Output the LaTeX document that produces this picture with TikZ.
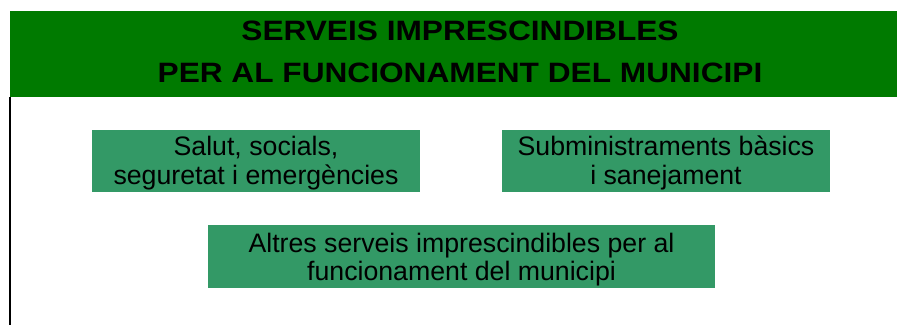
\documentclass[tikz,border=0pt]{standalone}
\usepackage{fontspec}
\setmainfont{Liberation Sans}
\newfontfamily\headfont[FakeStretch=1.13]{Liberation Sans}
\definecolor{headgreen}{RGB}{0,122,0}
\definecolor{boxgreen}{RGB}{51,153,102}
\begin{document}
\begin{tikzpicture}[x=1pt,y=-1pt,
  band/.style={fill=headgreen,draw=none,inner sep=0pt,outer sep=0pt},
  svcbox/.style={fill=boxgreen,draw=none,inner sep=0pt,outer sep=0pt},
  svctext/.style={inner sep=0pt,align=center,text=black,
    font=\fontsize{26.7}{28.3}\selectfont},
  headtext/.style={align=center,inner sep=0pt,font=\headfont\bfseries\fontsize{28}{42}\selectfont,text=black}]
\useasboundingbox (0,0) rectangle (900,325);
% header band
\node[band,minimum width=887pt,minimum height=86pt,anchor=north west] (header) at (10,11) {};
\node[headtext] (htext) at (460,52) {SERVEIS IMPRESCINDIBLES\\PER AL FUNCIONAMENT DEL MUNICIPI};
% left border line
\coordinate (lineend) at (10,325);
\draw[line width=2pt,black] (header.south west) -- (lineend);
% service boxes
\node[svcbox,minimum width=328pt,minimum height=62pt,anchor=north west] (salut) at (92,130) {};
\node[svctext] (salutT) at ([yshift=-2pt]salut.center) {Salut, socials,\\seguretat i emergències};
\node[svcbox,minimum width=328pt,minimum height=62pt,anchor=north west] (submin) at (502,130) {};
\node[svctext] (subminT) at ([yshift=-2pt]submin.center) {Subministraments bàsics\\i sanejament};
\node[svcbox,minimum width=507pt,minimum height=63pt,anchor=north west] (altres) at (208,225) {};
\node[svctext,font=\fontsize{26.7}{27.7}\selectfont] (altresT) at ([yshift=-3pt]altres.center)
  {Altres serveis imprescindibles per al\\funcionament del municipi};
\end{tikzpicture}
\end{document}
